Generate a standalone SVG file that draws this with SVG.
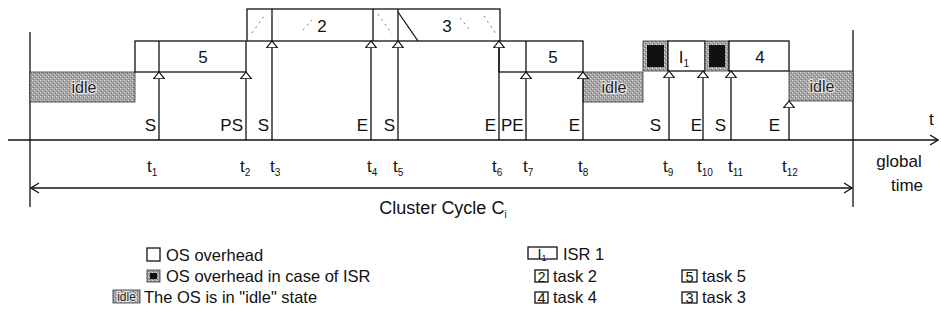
<svg xmlns="http://www.w3.org/2000/svg" width="941" height="333" viewBox="0 0 941 333">
<style>
text{font-family:"Liberation Sans",Arial,sans-serif;fill:#111}
.lbl{font-size:17px}
.leg{font-size:16.5px}
.lbx{font-size:14.5px;text-anchor:middle}
.box{fill:#fff;stroke:#111;stroke-width:1.3}
.idle{fill:url(#tex);stroke:#333;stroke-width:0.8}
.ln{stroke:#111;stroke-width:1.3;fill:none}
.hat{stroke:#777;stroke-width:1;stroke-dasharray:2 4;fill:none}
.idt{font-size:16px;fill:#222;stroke:#e8e8e8;stroke-width:2.2;paint-order:stroke;text-anchor:middle}
.num{font-size:17px;text-anchor:middle}
.blk{fill:#111}
</style>
<defs>
<pattern id="tex" width="4" height="4" patternUnits="userSpaceOnUse">
<rect width="4" height="4" fill="#a6a6a6"/>
<rect x="0" y="0" width="1" height="1" fill="#e0e0e0"/>
<rect x="2" y="2" width="1" height="1" fill="#d4d4d4"/>
<rect x="1" y="3" width="1" height="1" fill="#6e6e6e"/>
<rect x="3" y="1" width="1" height="1" fill="#777"/>
</pattern>
<marker id="up" viewBox="0 0 8 12" refX="7.4" refY="6" markerWidth="8" markerHeight="12" markerUnits="userSpaceOnUse" orient="auto">
<path d="M7.4,6 L0.6,0.6 L0.6,11.4 Z" fill="#fff" stroke="#111" stroke-width="1.2"/>
</marker>
<marker id="open" viewBox="0 0 10 12" refX="9" refY="6" markerWidth="10" markerHeight="12" markerUnits="userSpaceOnUse" orient="auto-start-reverse">
<path d="M1,1 L9,6 L1,11" fill="none" stroke="#111" stroke-width="1.3"/>
</marker>
</defs>

<g id="frame">
<line class="ln" x1="30" y1="32" x2="30" y2="207"/>
<line class="ln" x1="853" y1="30" x2="853" y2="207"/>
</g>

<g id="idle1">
<rect class="idle" x="30" y="72" width="105" height="30"/>
<text class="idt" x="84" y="93">idle</text>
</g>

<g id="task5a">
<rect class="box" x="135" y="41" width="111" height="31"/>
<line class="ln" x1="159" y1="41" x2="159" y2="72"/>
<text class="num" x="203" y="63">5</text>
</g>

<g id="task23">
<rect class="box" x="247" y="9" width="253" height="32"/>
<line class="ln" x1="272" y1="9" x2="272" y2="41"/>
<line class="ln" x1="373" y1="9" x2="373" y2="41"/>
<line class="ln" x1="398" y1="9" x2="398" y2="41"/>
<line class="ln" x1="398" y1="12" x2="418" y2="41"/>
<path class="hat" d="M252,33 L264,16 M303,30 L312,20 M378,14 L392,34 M460,18 L470,30 M484,16 L496,34"/>
<text class="num" x="322" y="32">2</text>
<text class="num" x="447" y="32">3</text>
</g>

<g id="task5b">
<rect class="box" x="499" y="41" width="84" height="31"/>
<line class="ln" x1="526" y1="41" x2="526" y2="72"/>
<text class="num" x="553" y="63">5</text>
</g>

<g id="idle2">
<rect class="idle" x="583" y="72" width="60" height="30"/>
<text class="idt" x="614" y="93">idle</text>
</g>

<g id="isr1">
<rect class="idle" x="643" y="41" width="25" height="30"/>
<rect class="blk" x="647" y="45" width="17" height="22"/>
</g>
<g id="I1">
<rect class="box" x="668" y="41" width="37" height="30"/>
<text x="684" y="63" class="num">I<tspan font-size="10" dy="4">1</tspan></text>
</g>
<g id="isr2">
<rect class="idle" x="705" y="41" width="24" height="30"/>
<rect class="blk" x="709" y="45" width="16" height="22"/>
</g>
<g id="task4">
<rect class="box" x="729" y="41" width="60" height="30"/>
<text class="num" x="760" y="63">4</text>
</g>

<g id="idle3">
<rect class="idle" x="789" y="71" width="64" height="30"/>
<text class="idt" x="822" y="92">idle</text>
</g>

<g id="connectors">
<line class="ln" x1="8" y1="140" x2="938" y2="140" stroke-width="2" marker-end="url(#open)"/>
<line class="ln" x1="31" y1="188" x2="852" y2="188" marker-start="url(#open)" marker-end="url(#open)"/>
<line class="ln" x1="159" y1="140" x2="159" y2="72" marker-end="url(#up)"/>
<line class="ln" x1="246" y1="140" x2="246" y2="72" marker-end="url(#up)"/>
<line class="ln" x1="272" y1="140" x2="272" y2="41" marker-end="url(#up)"/>
<line class="ln" x1="371" y1="140" x2="371" y2="41" marker-end="url(#up)"/>
<line class="ln" x1="398" y1="140" x2="398" y2="41" marker-end="url(#up)"/>
<line class="ln" x1="499" y1="140" x2="499" y2="41" marker-end="url(#up)"/>
<line class="ln" x1="526" y1="140" x2="526" y2="72" marker-end="url(#up)"/>
<line class="ln" x1="583" y1="140" x2="583" y2="72" marker-end="url(#up)"/>
<line class="ln" x1="669" y1="140" x2="669" y2="71" marker-end="url(#up)"/>
<line class="ln" x1="703" y1="140" x2="703" y2="71" marker-end="url(#up)"/>
<line class="ln" x1="731" y1="140" x2="731" y2="71" marker-end="url(#up)"/>
<line class="ln" x1="789" y1="140" x2="789" y2="101" marker-end="url(#up)"/>
</g>

<g id="event-labels">
<text x="156" y="131" text-anchor="end" class="lbl">S</text>
<text x="243" y="131" text-anchor="end" class="lbl">PS</text>
<text x="269" y="131" text-anchor="end" class="lbl">S</text>
<text x="368" y="131" text-anchor="end" class="lbl">E</text>
<text x="395" y="131" text-anchor="end" class="lbl">S</text>
<text x="496" y="131" text-anchor="end" class="lbl">E</text>
<text x="501" y="131" class="lbl">PE</text>
<text x="580" y="131" text-anchor="end" class="lbl">E</text>
<text x="661" y="131" text-anchor="end" class="lbl">S</text>
<text x="702" y="131" text-anchor="end" class="lbl">E</text>
<text x="726" y="131" text-anchor="end" class="lbl">S</text>
<text x="780" y="131" text-anchor="end" class="lbl">E</text>
<text x="929" y="125" class="lbl">t</text>
</g>

<g id="time-labels">
<text x="147" y="172" class="lbl">t<tspan font-size="10" dy="4">1</tspan></text>
<text x="240" y="172" class="lbl">t<tspan font-size="10" dy="4">2</tspan></text>
<text x="270" y="172" class="lbl">t<tspan font-size="10" dy="4">3</tspan></text>
<text x="367" y="172" class="lbl">t<tspan font-size="10" dy="4">4</tspan></text>
<text x="393" y="172" class="lbl">t<tspan font-size="10" dy="4">5</tspan></text>
<text x="492" y="172" class="lbl">t<tspan font-size="10" dy="4">6</tspan></text>
<text x="523" y="172" class="lbl">t<tspan font-size="10" dy="4">7</tspan></text>
<text x="578" y="172" class="lbl">t<tspan font-size="10" dy="4">8</tspan></text>
<text x="663" y="172" class="lbl">t<tspan font-size="10" dy="4">9</tspan></text>
<text x="697" y="172" class="lbl">t<tspan font-size="10" dy="4">10</tspan></text>
<text x="728" y="172" class="lbl">t<tspan font-size="10" dy="4">11</tspan></text>
<text x="782" y="172" class="lbl">t<tspan font-size="10" dy="4">12</tspan></text>
<text x="899" y="167" class="lbl" text-anchor="middle" font-size="18">global</text>
<text x="907" y="191" class="lbl" text-anchor="middle" font-size="18">time</text>
<text x="443" y="214" class="lbl" text-anchor="middle" style="font-size:18px">Cluster Cycle C<tspan font-size="10" dy="4">i</tspan></text>
</g>

<g id="legend">
<rect class="box" x="147" y="248" width="13" height="13" stroke-width="1"/>
<text x="166" y="261" class="leg">OS overhead</text>
<rect class="idle" x="147" y="270" width="13" height="12"/>
<rect class="blk" x="150" y="273" width="7" height="6"/>
<text x="166" y="282" class="leg">OS overhead in case of ISR</text>
<rect class="idle" x="113" y="290" width="27" height="13"/>
<text class="idt" x="126.5" y="301" stroke-width="1.2" style="font-size:12px">idle</text>
<text x="144" y="303" class="leg">The OS is in "idle" state</text>

<rect class="box" x="528" y="247" width="29" height="12" stroke-width="1"/>
<text x="542" y="258.5" class="lbx">I<tspan font-size="9" dy="2">1</tspan></text>
<text x="563" y="260" class="leg">ISR 1</text>
<rect class="box" x="535" y="270" width="13" height="12" stroke-width="1"/>
<text x="541.5" y="281.5" class="lbx">2</text>
<text x="553" y="282" class="leg">task 2</text>
<rect class="box" x="535" y="292" width="13" height="11" stroke-width="1"/>
<text x="541.5" y="302.5" class="lbx">4</text>
<text x="553" y="303" class="leg">task 4</text>
<rect class="box" x="682" y="270" width="15" height="12" stroke-width="1"/>
<text x="689.5" y="281.5" class="lbx">5</text>
<text x="702" y="282" class="leg">task 5</text>
<rect class="box" x="682" y="292" width="15" height="11" stroke-width="1"/>
<text x="689.5" y="302.5" class="lbx">3</text>
<text x="702" y="303" class="leg">task 3</text>
</g>
</svg>
